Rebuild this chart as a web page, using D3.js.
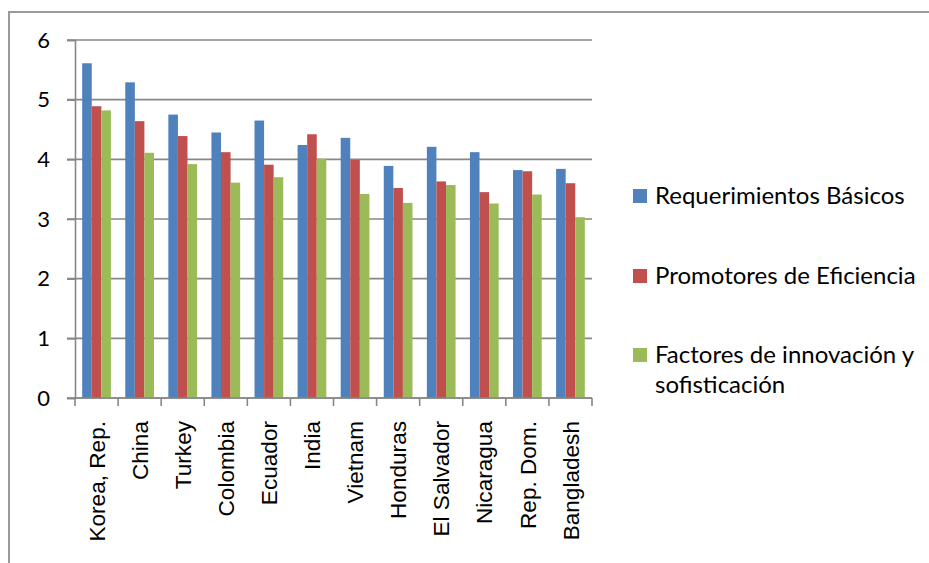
<!DOCTYPE html>
<html>
<head>
<meta charset="utf-8">
<script src="https://cdn.jsdelivr.net/npm/d3@7"></script>
<style>
  html, body { margin: 0; padding: 0; background: #fff; }
  svg { display: block; }
</style>
</head>
<body>
<svg id="chart" width="929" height="563"></svg>
<script>
// Country groups along the x axis
const categories = ["Korea, Rep.", "China", "Turkey", "Colombia", "Ecuador", "India",
  "Vietnam", "Honduras", "El Salvador", "Nicaragua", "Rep. Dom.", "Bangladesh"];

// Series names (legend)
const seriesNames = ["Requerimientos Básicos", "Promotores de Eficiencia", "Factores de innovación y sofisticación"];

// Pillar scores per country
const basicos    = [5.61, 5.29, 4.75, 4.45, 4.65, 4.24, 4.36, 3.89, 4.21, 4.12, 3.82, 3.84];
const eficiencia = [4.89, 4.64, 4.39, 4.12, 3.91, 4.42, 3.99, 3.52, 3.63, 3.45, 3.80, 3.60];
const innovacion = [4.82, 4.11, 3.92, 3.61, 3.70, 4.01, 3.42, 3.27, 3.57, 3.26, 3.41, 3.03];

const yTicks = [0, 1, 2, 3, 4, 5, 6];
const colors = ["#4F81BD", "#C0504D", "#9BBB59"];

const series = [basicos, eficiencia, innovacion];

const svg = d3.select("#chart");
const plot = { left: 75, right: 592, top: 40, bottom: 398 };

// Outer chart frame
svg.append("path")
  .attr("d", "M9,563 L9,12 L929,12")
  .attr("fill", "none")
  .attr("stroke", "#9a9a9a")
  .attr("stroke-width", 2);

const y = d3.scaleLinear().domain([0, 6]).range([plot.bottom, plot.top]);
const x0 = d3.scaleBand().domain(categories).range([plot.left, plot.right]).padding(0);
const bw = x0.bandwidth() / 4.5;
const x1 = d3.scaleBand().domain(d3.range(series.length)).range([bw * 0.75, bw * 3.75]).padding(0);

const gridColor = "#878787";

// Horizontal gridlines
svg.append("g")
  .selectAll("line")
  .data(yTicks)
  .join("line")
  .attr("x1", plot.left - 8)
  .attr("x2", plot.right)
  .attr("y1", d => y(d))
  .attr("y2", d => y(d))
  .attr("stroke", gridColor)
  .attr("stroke-width", 1.6);

// Bars
const groups = svg.append("g")
  .selectAll("g")
  .data(categories)
  .join("g")
  .attr("transform", d => `translate(${x0(d)},0)`);

groups.selectAll("rect")
  .data((d, i) => series.map((s, k) => ({ k, v: s[i] })))
  .join("rect")
  .attr("x", d => x1(d.k))
  .attr("width", x1.bandwidth())
  .attr("y", d => y(d.v))
  .attr("height", d => y(0) - y(d.v))
  .attr("fill", d => colors[d.k]);

// Y axis
const yAxis = svg.append("g")
  .attr("transform", `translate(${plot.left},0)`)
  .call(d3.axisLeft(y).tickValues(yTicks).tickSize(8).tickPadding(17).tickFormat(d3.format("d")));
yAxis.select(".domain").attr("stroke", gridColor).attr("stroke-width", 1.6);
yAxis.selectAll(".tick line").attr("stroke", gridColor).attr("stroke-width", 1.6);
yAxis.selectAll("text")
  .attr("font-family", "Lato, sans-serif")
  .attr("font-size", 22)
  .attr("fill", "#000");

// X axis: ticks between categories, rotated labels
const boundaries = d3.range(categories.length + 1).map(i => plot.left + i * x0.step());
const xg = svg.append("g");
xg.append("line")
  .attr("x1", plot.left).attr("x2", plot.right)
  .attr("y1", plot.bottom).attr("y2", plot.bottom)
  .attr("stroke", gridColor).attr("stroke-width", 1.6);
xg.selectAll("line.tk")
  .data(boundaries)
  .join("line")
  .attr("class", "tk")
  .attr("x1", d => d).attr("x2", d => d)
  .attr("y1", plot.bottom).attr("y2", plot.bottom + 8)
  .attr("stroke", gridColor).attr("stroke-width", 1.6);
xg.selectAll("text")
  .data(categories)
  .join("text")
  .attr("transform", d => `translate(${x0(d) + x0.bandwidth() / 2},${plot.bottom + 23}) rotate(-90)`)
  .attr("text-anchor", "end")
  .attr("dy", "0.36em")
  .attr("font-family", "'Liberation Sans', Arial, sans-serif")
  .attr("font-size", 22.6)
  .attr("fill", "#000")
  .text(d => d);

// Legend
const legendRows = [
  { lines: ["Requerimientos Básicos"], y: 196 },
  { lines: ["Promotores de Eficiencia"], y: 276 },
  { lines: ["Factores de innovación y", "sofisticación"], y: 355 }
];
const lg = svg.append("g");
legendRows.forEach((row, i) => {
  lg.append("rect")
    .attr("x", 633).attr("y", row.y - 7)
    .attr("width", 14).attr("height", 14)
    .attr("fill", colors[i]);
  const t = lg.append("text")
    .attr("x", 655).attr("y", row.y)
    .attr("font-family", "Lato, sans-serif")
    .attr("font-size", 24)
    .attr("fill", "#000");
  row.lines.forEach((ln, j) => {
    t.append("tspan").attr("x", 655).attr("dy", j === 0 ? "0.35em" : 30).text(ln);
  });
});
</script>
</body>
</html>
